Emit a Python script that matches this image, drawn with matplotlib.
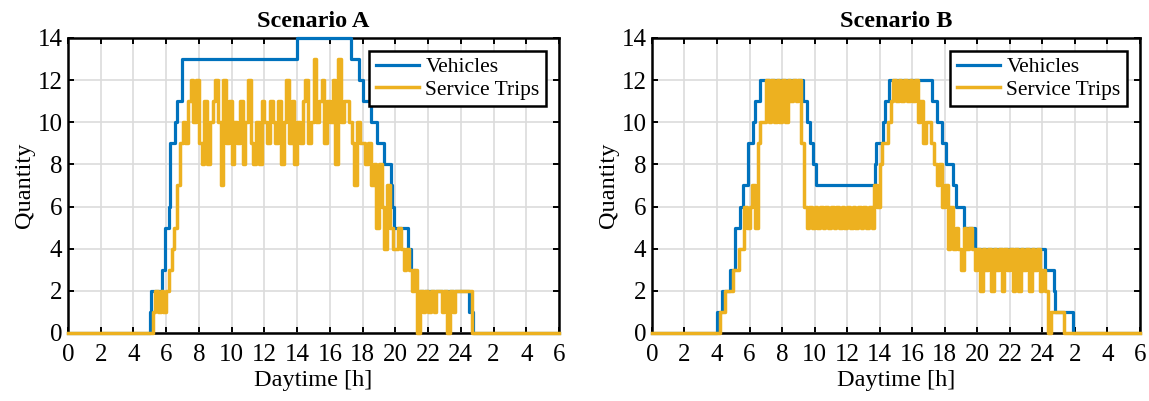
#!/usr/bin/env python3

import numpy as np
import matplotlib
matplotlib.use("Agg")
import matplotlib.pyplot as plt

BLUE = "#0072BD"
ORANGE = "#EDB120"

# x axis runs 0..30 h, labels wrap after midnight
X_TICKS = list(range(0, 31, 2))
X_LABELS = ["0", "2", "4", "6", "8", "10", "12", "14", "16", "18", "20",
            "22", "24", "2", "4", "6"]
Y_TICKS = list(range(0, 15, 2))

# Scenario A - vehicles (step breakpoints, hour -> count)
veh_a_t = [0, 5.0, 5.1, 5.75, 5.95, 6.15, 6.26, 6.56, 6.67, 6.97, 14.0,
           17.3, 17.8, 18.0, 18.5, 18.9, 19.3, 19.75, 19.8, 19.9, 20.8,
           20.95, 21.2, 24.5, 24.75, 30]
veh_a_v = [0, 1, 2, 3, 5, 6, 9, 10, 11, 13, 14,
           13, 12, 11, 10, 9, 8, 7, 6, 5, 4,
           3, 2, 1, 0, 0]

# Scenario A - service trips, 10 min bins starting at 5:00
trips_a_start = 5
trips_a = [
    0, 1, 2, 1, 2, 1,        # 5
    2, 3, 4, 5, 7, 9,        # 6
    10, 9, 11, 12, 10, 12,   # 7
    9, 8, 11, 8, 10, 11,     # 8
    12, 10, 7, 12, 9, 11,    # 9
    8, 10, 9, 11, 8, 10,     # 10
    12, 9, 8, 10, 8, 11,     # 11
    10, 9, 11, 10, 9, 11,    # 12
    8, 10, 12, 9, 11, 8,     # 13
    10, 9, 11, 12, 9, 10,    # 14
    13, 10, 11, 12, 9, 11,   # 15
    10, 12, 8, 13, 10, 11,   # 16
    11, 10, 9, 7, 10, 9,     # 17
    9, 8, 9, 7, 8, 5,        # 18
    8, 6, 4, 7, 5, 4,        # 19
    4, 5, 4, 3, 4, 3,        # 20
    2, 3, 0, 2, 1, 2,        # 21
    1, 2, 1, 2, 2, 1,        # 22
    2, 0, 2, 1, 2, 2,        # 23
    2, 2, 2, 2, 0, 0,        # 24
]

# Scenario B - vehicles
veh_b_t = [0, 3.97, 4.28, 4.8, 5.1, 5.4, 5.6, 5.92, 6.23, 6.33, 6.64,
           9.3, 9.5, 9.7, 9.9, 10.1, 13.7, 13.8, 14.2, 14.3, 14.6,
           17.2, 17.5, 17.8, 18.1, 18.5, 18.7, 19.2, 19.85, 24.15, 24.7,
           24.8, 25.85, 30]
veh_b_v = [0, 1, 2, 3, 5, 6, 7, 9, 10, 11, 12,
           11, 10, 9, 8, 7, 8, 9, 10, 11, 12,
           11, 10, 9, 8, 7, 6, 5, 4, 3, 2,
           1, 0, 0]

# Scenario B - service trips, 10 min bins starting at 4:00
trips_b_start = 4
trips_b = [
    0, 1, 1, 2, 2, 2,        # 4
    3, 3, 4, 4, 6, 5,        # 5
    6, 7, 5, 9, 10, 10,      # 6
    12, 10, 12, 10, 12, 10,  # 7
    12, 10, 12, 11, 12, 11,  # 8
    12, 9, 6, 5, 6, 5,       # 9
    6, 5, 6, 5, 6, 5,        # 10
    6, 5, 6, 5, 6, 5,        # 11
    6, 5, 6, 5, 6, 5,        # 12
    6, 5, 6, 5, 7, 6,        # 13
    8, 9, 9, 10, 11, 12,     # 14
    11, 12, 11, 12, 11, 12,  # 15
    11, 12, 10, 11, 9, 10,   # 16
    10, 9, 8, 7, 8, 6,       # 17
    7, 4, 6, 4, 5, 4,        # 18
    3, 5, 4, 5, 4, 3,        # 19
    4, 2, 4, 3, 4, 2,        # 20
    4, 3, 4, 2, 4, 3,        # 21
    4, 2, 4, 2, 4, 3,        # 22
    4, 2, 4, 3, 4, 2,        # 23
    3, 2, 0, 1, 1, 1,        # 24
    1, 1, 0, 0, 0, 0,        # 25
]


def bins_to_steps(start: float, vals: list) -> tuple:
    t = [0.0] + list(start + np.arange(len(vals)) / 6.0) + [30.0]
    v = [0] + list(vals) + [0]
    return t, v


def draw_panel(ax, title, vt, vv, st, sv) -> None:
    ax.step(vt, vv, where="post", color=BLUE, lw=2.3, label="Vehicles",
            zorder=3, clip_on=False)
    ax.step(st, sv, where="post", color=ORANGE, lw=2.5,
            label="Service Trips", zorder=3.5, clip_on=False)
    ax.set_xlim(0, 30)
    ax.set_ylim(0, 14)
    ax.set_xticks(X_TICKS)
    ax.set_xticklabels(X_LABELS)
    ax.set_yticks(Y_TICKS)
    ax.grid(True, color="#dcdcdc", lw=1.2)
    ax.set_axisbelow(True)
    ax.tick_params(direction="in", top=True, right=True, length=4,
                   width=1.4, labelsize=18)
    ax.tick_params(axis="x", pad=8)
    ax.tick_params(axis="y", pad=4)
    for s in ax.spines.values():
        s.set_linewidth(1.8)
    ax.set_title(title, fontsize=17.5, fontweight="bold", pad=8)
    ax.set_xlabel("Daytime [h]", fontsize=17.5, labelpad=3)
    ax.set_ylabel("Quantity", fontsize=17.5, labelpad=2)
    leg = ax.legend(loc="upper right", fontsize=15.5, fancybox=False,
                    framealpha=1, edgecolor="black", borderaxespad=0.6,
                    handlelength=2.0, handletextpad=0.3, borderpad=0.3,
                    labelspacing=0.1)
    leg.get_frame().set_linewidth(1.8)


def main() -> None:
    plt.rcParams["font.family"] = ["Liberation Serif", "DejaVu Serif"]
    fig = plt.figure(figsize=(11.49, 4.01), dpi=100)
    ax1 = fig.add_axes([0.0592, 0.1696, 0.4273, 0.7357])
    ax2 = fig.add_axes([0.5674, 0.1696, 0.4248, 0.7357])
    ta, va = bins_to_steps(trips_a_start, trips_a)
    tb, vb = bins_to_steps(trips_b_start, trips_b)
    draw_panel(ax1, "Scenario A", veh_a_t, veh_a_v, ta, va)
    draw_panel(ax2, "Scenario B", veh_b_t, veh_b_v, tb, vb)
    fig.savefig("out.png", dpi=100)


main()
